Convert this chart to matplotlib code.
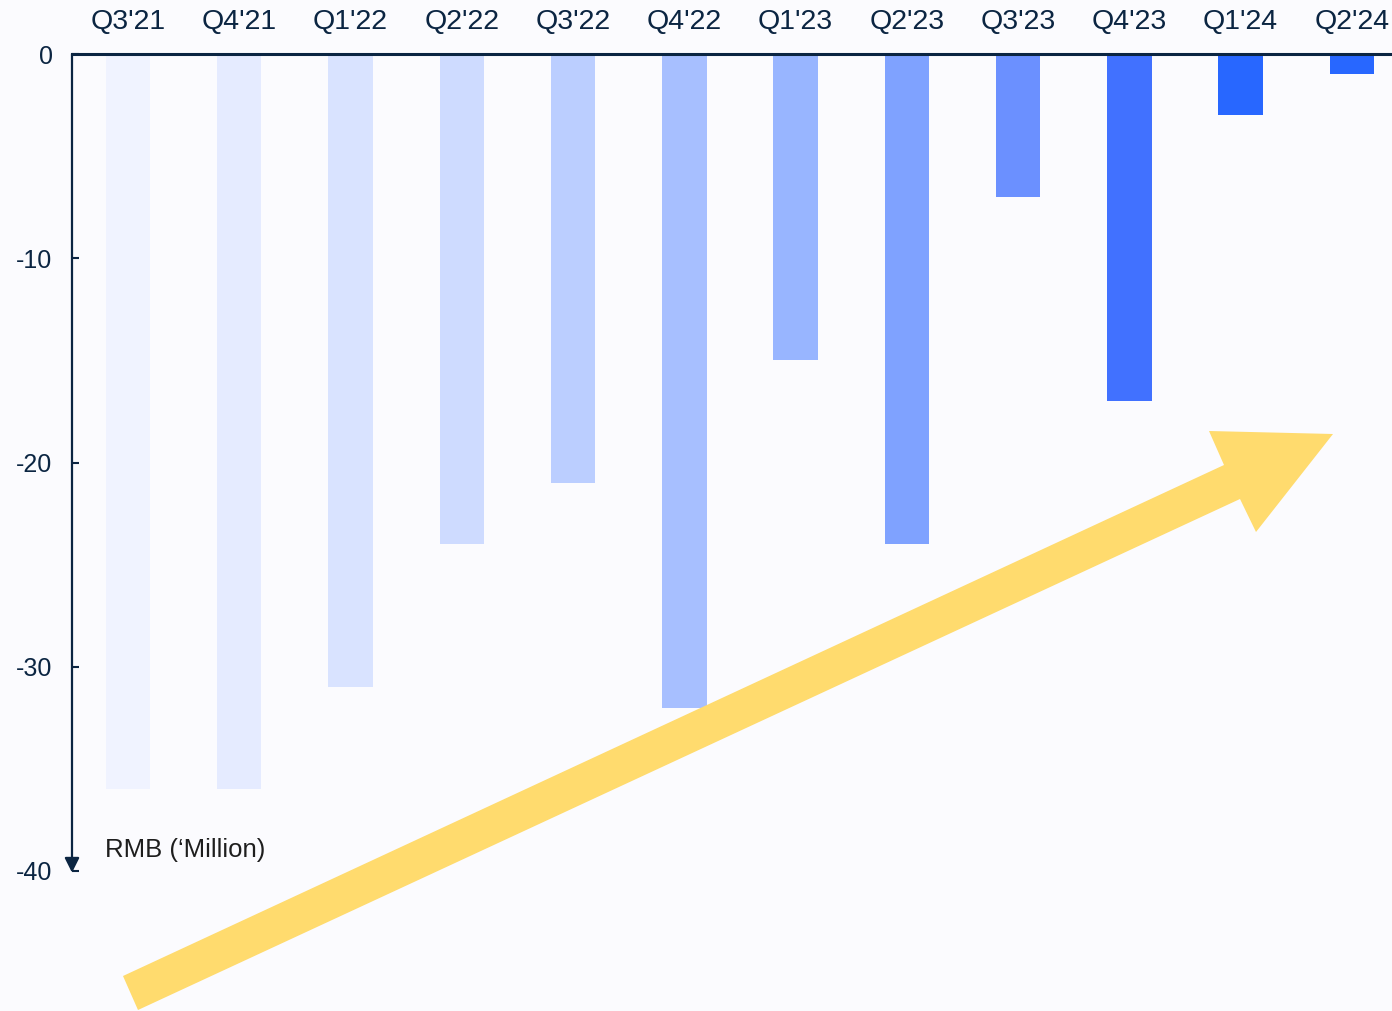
import matplotlib
matplotlib.use("Agg")
import matplotlib.pyplot as plt
from matplotlib.patches import Polygon

plt.rcParams['font.family'] = ['Liberation Sans', 'DejaVu Sans']

# ---- data ----
quarters = ["Q3'21", "Q4'21", "Q1'22", "Q2'22", "Q3'22", "Q4'22",
            "Q1'23", "Q2'23", "Q3'23", "Q4'23", "Q1'24", "Q2'24"]
values = [-36, -36, -31, -24, -21, -32, -15, -24, -7, -17, -3, -1]
bar_colors = ["#F0F3FF", "#E5EBFF", "#D9E3FF", "#CEDBFF", "#BBCEFF", "#A7BFFF",
              "#98B5FF", "#7FA2FF", "#6B90FF", "#4171FF", "#2867FF", "#2867FF"]
y_ticks = [0, -10, -20, -30, -40]
y_label = "RMB (\u2018Million)"

W, H = 1392, 1011
bg = "#FBFBFE"
navy = "#0B2542"

fig = plt.figure(figsize=(W / 100, H / 100), dpi=100, facecolor=bg)
ax = fig.add_axes([72 / W, 1 - 871 / H, 1 - 72 / W, (871 - 54) / H])
ax.set_facecolor(bg)

x = list(range(len(quarters)))
ax.bar(x, values, width=0.4, color=bar_colors, zorder=2)

ax.set_xlim(-0.503, 11.36)
ax.set_ylim(-40, 0)

# x labels on top
ax.xaxis.tick_top()
ax.set_xticks(x)
ax.set_xticklabels(quarters, fontsize=20.5, color=navy)
ax.tick_params(axis='x', length=0, pad=14)

ax.set_yticks(y_ticks)
ax.set_yticklabels([str(v) for v in y_ticks], fontsize=18, color=navy)
ax.tick_params(axis='y', direction='in', length=5, width=1.5, color=navy, pad=14)

for s in ['right', 'bottom', 'left']:
    ax.spines[s].set_visible(False)
ax.spines['top'].set_color(navy)
ax.spines['top'].set_linewidth(2.2)

# left axis with downward arrow
ax.annotate("", xy=(0, -0.002), xytext=(0, 1.0), xycoords='axes fraction',
            textcoords='axes fraction',
            arrowprops=dict(arrowstyle='-|>', color=navy, lw=1.6,
                            mutation_scale=22, shrinkA=0, shrinkB=0),
            annotation_clip=False, zorder=5)

ax.text(105 / W, 1 - 850 / H, y_label, transform=fig.transFigure,
        fontsize=18.5, color="#1E1E1E", va='center', ha='left')

# yellow trend arrow (decoration) in pixel coordinates
pts = [(123, 976), (1224, 465), (1209, 431), (1333, 434),
       (1256, 532), (1240, 499), (138, 1010)]
pts_f = [(px / W, 1 - py / H) for px, py in pts]
fig.patches.append(Polygon(pts_f, closed=True, transform=fig.transFigure,
                           facecolor="#FFDB6E", edgecolor='none', zorder=10))

fig.savefig("out.png", dpi=100, facecolor=bg)
